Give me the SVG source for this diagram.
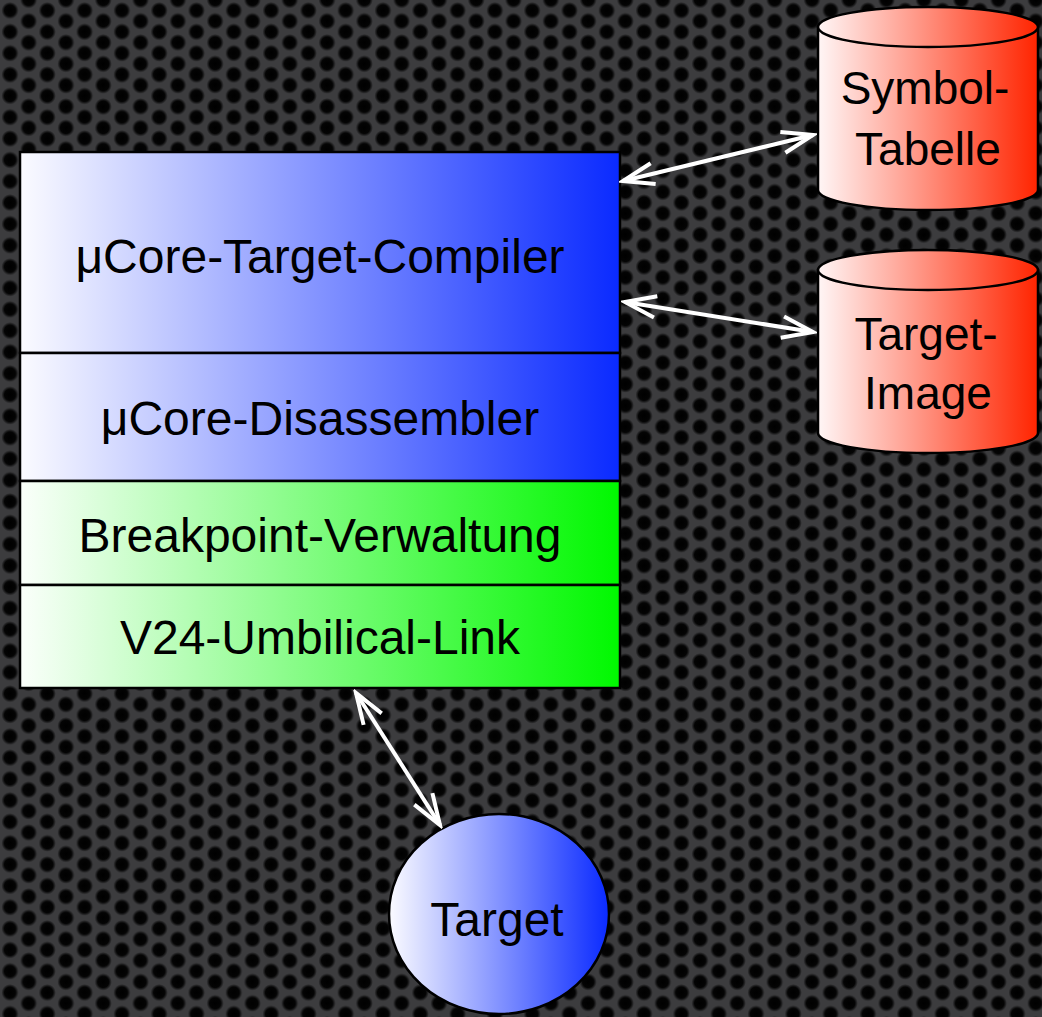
<svg xmlns="http://www.w3.org/2000/svg" width="1042" height="1017" viewBox="0 0 1042 1017">
  <defs>
    <radialGradient id="hole" cx="0.5" cy="0.5" r="0.5">
      <stop offset="0" stop-color="#000000"/>
      <stop offset="0.65" stop-color="#040404"/>
      <stop offset="1" stop-color="#3c3c3e"/>
    </radialGradient>
    <pattern id="holes" x="0" y="0" width="37.3" height="21.35" patternUnits="userSpaceOnUse">
      <rect width="37.3" height="21.35" fill="#3c3c3e"/>
      <circle cx="10" cy="10.5" r="8.6" fill="url(#hole)"/>
      <circle cx="28.65" cy="-0.175" r="8.6" fill="url(#hole)"/>
      <circle cx="28.65" cy="21.175" r="8.6" fill="url(#hole)"/>
    </pattern>
    <linearGradient id="gBlue" x1="0" y1="0" x2="1" y2="0">
      <stop offset="0" stop-color="#fbfbff"/>
      <stop offset="1" stop-color="#0a2aff"/>
    </linearGradient>
    <linearGradient id="gGreen" x1="0" y1="0" x2="1" y2="0">
      <stop offset="0" stop-color="#fbfffb"/>
      <stop offset="1" stop-color="#00f800"/>
    </linearGradient>
    <linearGradient id="gRed" x1="0" y1="0" x2="1" y2="0">
      <stop offset="0" stop-color="#fff6f6"/>
      <stop offset="1" stop-color="#ff2400"/>
    </linearGradient>
    <marker id="ah" viewBox="-34 -14 38 28" markerWidth="38" markerHeight="28" refX="0" refY="0" markerUnits="userSpaceOnUse" orient="auto-start-reverse">
      <path d="M-31,-10.7 L0,0 L-31,10.7" fill="none" stroke="#ffffff" stroke-width="4" stroke-linejoin="miter"/>
    </marker>
    <style>
      .lbl { font-family: "Liberation Sans", Arial, Helvetica, sans-serif; font-size: 48px; fill: #000; text-anchor: middle; }
      .clbl { font-family: "Liberation Sans", Arial, Helvetica, sans-serif; font-size: 46px; fill: #000; text-anchor: middle; }
      .edge { stroke: #000; stroke-width: 2.5; }
      .conn { stroke: #ffffff; stroke-width: 4; fill: none; marker-start: url(#ah); marker-end: url(#ah); }
    </style>
  </defs>

  <rect width="1042" height="1017" fill="url(#holes)"/>

  <g id="compiler">
    <rect x="20" y="152" width="600" height="201" fill="url(#gBlue)" class="edge"/>
    <text class="lbl" x="320" y="273">μCore-Target-Compiler</text>
  </g>
  <g id="disassembler">
    <rect x="20" y="353" width="600" height="128" fill="url(#gBlue)" class="edge"/>
    <text class="lbl" x="320" y="435">μCore-Disassembler</text>
  </g>
  <g id="breakpoint">
    <rect x="20" y="481" width="600" height="104" fill="url(#gGreen)" class="edge"/>
    <text class="lbl" x="320" y="552">Breakpoint-Verwaltung</text>
  </g>
  <g id="v24">
    <rect x="20" y="585" width="600" height="103" fill="url(#gGreen)" class="edge"/>
    <text class="lbl" x="320" y="654">V24-Umbilical-Link</text>
  </g>

  <g id="symboltabelle">
    <path d="M818,27 L818,190 A110,20 0 0 0 1038,190 L1038,27 Z" fill="url(#gRed)" class="edge"/>
    <ellipse cx="928" cy="27" rx="110" ry="20" fill="url(#gRed)" class="edge"/>
    <text class="clbl" x="925" y="104">Symbol-</text>
    <text class="clbl" x="928" y="165">Tabelle</text>
  </g>

  <g id="targetimage">
    <path d="M818,270 L818,433 A110,20 0 0 0 1038,433 L1038,270 Z" fill="url(#gRed)" class="edge"/>
    <ellipse cx="928" cy="270" rx="110" ry="20" fill="url(#gRed)" class="edge"/>
    <text class="clbl" x="926" y="350">Target-</text>
    <text class="clbl" x="928" y="409">Image</text>
  </g>

  <g id="target">
    <ellipse cx="499" cy="914" rx="110" ry="100" fill="url(#gBlue)" class="edge"/>
    <text class="lbl" x="497" y="936">Target</text>
  </g>

  <g id="connectors">
    <line class="conn" x1="623" y1="181" x2="813" y2="135"/>
    <line class="conn" x1="625" y1="302" x2="813" y2="332"/>
    <line class="conn" x1="356" y1="693" x2="440" y2="825"/>
  </g>
</svg>
